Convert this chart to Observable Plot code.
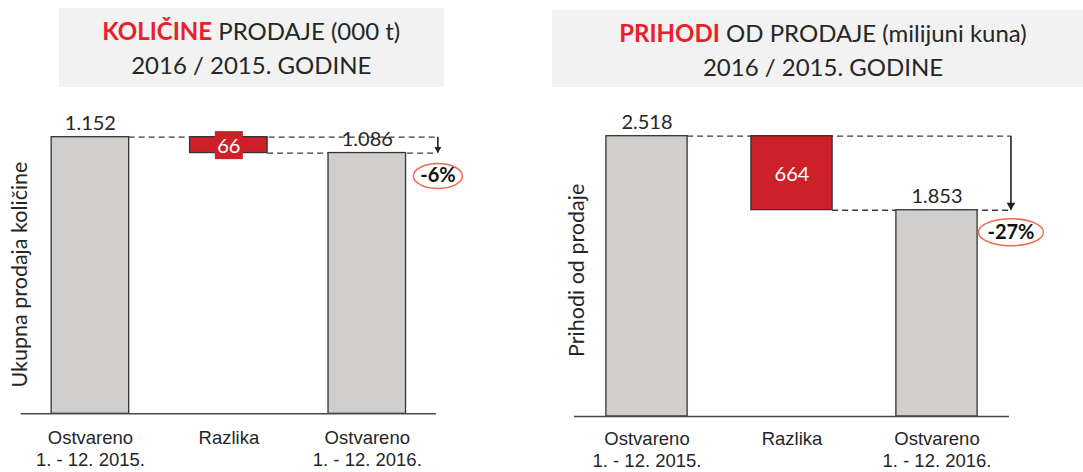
<!DOCTYPE html>
<html>
<head>
<meta charset="utf-8">
<script src="https://cdn.jsdelivr.net/npm/d3@7"></script>
<script src="https://cdn.jsdelivr.net/npm/@observablehq/plot@0.6"></script>
<style>
  html, body { margin: 0; padding: 0; background: #fff; }
  body { width: 1083px; height: 472px; overflow: hidden; position: relative; }
  .title {
    position: absolute; box-sizing: border-box; background: #f2f2f2;
    font-family: Lato, "Open Sans", sans-serif; font-size: 24px; line-height: 33.5px;
    color: #262626; text-align: center; padding-top: 6px; white-space: nowrap;
  }
  .title .hl { color: #e8202a; font-weight: bold; }
  .chart { position: absolute; top: 100px; }
  .chart svg { overflow: visible; }
</style>
</head>
<body>
<div id="t1" class="title" style="left:58.5px; top:8.3px; width:385.5px; height:78.4px;"></div>
<div id="t2" class="title" style="left:552px; top:10px; width:542px; height:77.3px;"></div>
<div id="c1" class="chart" style="left:0px;"></div>
<div id="c2" class="chart" style="left:540px;"></div>
<script>
// ---- data ----
const categories = ["Ostvareno\n1. - 12. 2015.", "Razlika", "Ostvareno\n1. - 12. 2016."];
const kolicineValues = [1152, 66, 1086];   // 000 t: 2015, razlika, 2016
const prihodiValues = [2518, 664, 1853];   // milijuni kuna: 2015, razlika, 2016
const changeLabels = ["-6%", "-27%"];
const titleHighlights = ["KOLIČINE", "PRIHODI"];
const titleRests = [" PRODAJE (000 t)", " OD PRODAJE (milijuni kuna)"];
const titleSecond = "2016 / 2015. GODINE";
const yLabels = ["Ukupna prodaja količine", "Prihodi od prodaje"];

// ---- styles ----
const GRAY = "#d0cfcd", RED = "#cd2029", EDGE = "#333333", DASH = "#3a3a3a", TEXT = "#262626", RING = "#ef6a50";
const HALF = 0.28; // half bar width in category units
const locale = d3.formatLocale({decimal: ",", thousands: ".", grouping: [3], currency: ["", ""]});
const fmt = locale.format(",d");

function ellipseSymbol(rx, ry) {
  const k = 0.5523;
  return {
    draw(ctx) {
      ctx.moveTo(rx, 0);
      ctx.bezierCurveTo(rx, ry * k, rx * k, ry, 0, ry);
      ctx.bezierCurveTo(-rx * k, ry, -rx, ry * k, -rx, 0);
      ctx.bezierCurveTo(-rx, -ry * k, -rx * k, -ry, 0, -ry);
      ctx.bezierCurveTo(rx * k, -ry, rx, -ry * k, rx, 0);
      ctx.closePath();
    }
  };
}
function boxSymbol(w, h) {
  return { draw(ctx) { ctx.rect(-w / 2, -h / 2, w, h); } };
}

function waterfall(values) {
  const [a, d, b] = values;
  return [
    {i: 0, y1: 0, y2: a, kind: "total", label: fmt(a)},
    {i: 1, y1: a - d, y2: a, kind: "diff", label: fmt(d)},
    {i: 2, y1: 0, y2: b, kind: "total", label: fmt(b)}
  ];
}

function panel({values, yLabel, change, width, marginLeft, marginRight, marginTop, marginBottom,
                yLabelDx, yLabelDy, ring, ringDy, head, boxW, tickPadding}) {
  const data = waterfall(values);
  const [a, , b] = values;
  const arrowX = 2.51;
  return Plot.plot({
    width, height: 372, marginLeft, marginRight, marginTop, marginBottom,
    x: {domain: [-0.5, 2.5], axis: null},
    y: {domain: [0, a], axis: null},
    style: {fontFamily: "Lato, 'Open Sans', sans-serif", fontSize: "20px", color: TEXT, background: "transparent"},
    marks: [
      Plot.ruleY([{y: a, x1: HALF, x2: arrowX}], {y: "y", x1: "x1", x2: "x2", stroke: DASH, strokeWidth: 1.3, strokeDasharray: "6,4"}),
      Plot.ruleY([{y: b, x1: 1 + HALF, x2: arrowX}], {y: "y", x1: "x1", x2: "x2", stroke: DASH, strokeWidth: 1.3, strokeDasharray: "6,4"}),
      Plot.rect(data, {x1: d => d.i - HALF, x2: d => d.i + HALF, y1: "y1", y2: "y2",
        fill: d => d.kind === "diff" ? RED : GRAY, stroke: EDGE, strokeWidth: 1.3}),
      Plot.ruleY([0], {stroke: "#4a4a4a", strokeWidth: 1.5}),
      Plot.axisX({ticks: [0, 1, 2], tickFormat: i => categories[i], tickSize: 0, tickPadding,
        fontFamily: "'Liberation Sans', Arial, sans-serif", fontSize: 18.5, lineHeight: 1.18, label: null}),
      Plot.text([yLabel], {text: d => d, frameAnchor: "left", textAnchor: "middle", rotate: -90, dx: yLabelDx, dy: yLabelDy, fontSize: 21.5, fill: TEXT}),
      Plot.text(data.filter(d => d.kind === "total"), {x: "i", y: "y2", text: "label", lineAnchor: "bottom", dy: -7, fill: TEXT}),
      Plot.dot(data.filter(d => d.kind === "diff"), {x: "i", y: d => (d.y1 + d.y2) / 2, symbol: boxSymbol(boxW, 28), fill: RED, stroke: "none"}),
      Plot.text(data.filter(d => d.kind === "diff"), {x: "i", y: d => (d.y1 + d.y2) / 2, text: "label", fill: "white", dy: 1}),
      Plot.ruleX([{x: arrowX, y1: a, y2: b}], {x: "x", y1: "y1", y2: "y2", stroke: "#222", strokeWidth: 1.6}),
      Plot.dot([{x: arrowX, y: b}], {x: "x", y: "y", symbol: "triangle", rotate: 180, r: head, fill: "#222", stroke: "none", dy: -head * 1.55}),
      Plot.dot([{x: arrowX, y: b}], {x: "x", y: "y", symbol: ellipseSymbol(ring[0], ring[1]), fill: "white", stroke: RING, strokeWidth: 1.5, dy: ringDy}),
      Plot.text([{x: arrowX, y: b, t: change}], {x: "x", y: "y", text: "t", dy: ringDy, fontWeight: "bold", fontSize: 20, fill: "#111"})
    ]
  });
}

function title(el, i) {
  const span = document.createElement("span");
  span.className = "hl";
  span.textContent = titleHighlights[i];
  el.append(span, document.createTextNode(titleRests[i]), document.createElement("br"), document.createTextNode(titleSecond));
}
title(document.getElementById("t1"), 0);
title(document.getElementById("t2"), 1);

document.getElementById("c1").append(panel({
  values: kolicineValues, yLabel: yLabels[0], change: changeLabels[0],
  width: 540, marginLeft: 20.7, marginRight: 104, marginTop: 36.7, marginBottom: 58.7,
  yLabelDx: -1, yLabelDy: -1, ring: [24.5, 12.5], ringDy: 23, head: 2.6, boxW: 28, tickPadding: 15
}));
document.getElementById("c2").append(panel({
  values: prihodiValues, yLabel: yLabels[1], change: changeLabels[1],
  width: 543, marginLeft: 34, marginRight: 74, marginTop: 35.7, marginBottom: 56,
  yLabelDx: 3, yLabelDy: -6, ring: [32.5, 13.5], ringDy: 22, head: 3.2, boxW: 40, tickPadding: 13
}));
</script>
</body>
</html>
